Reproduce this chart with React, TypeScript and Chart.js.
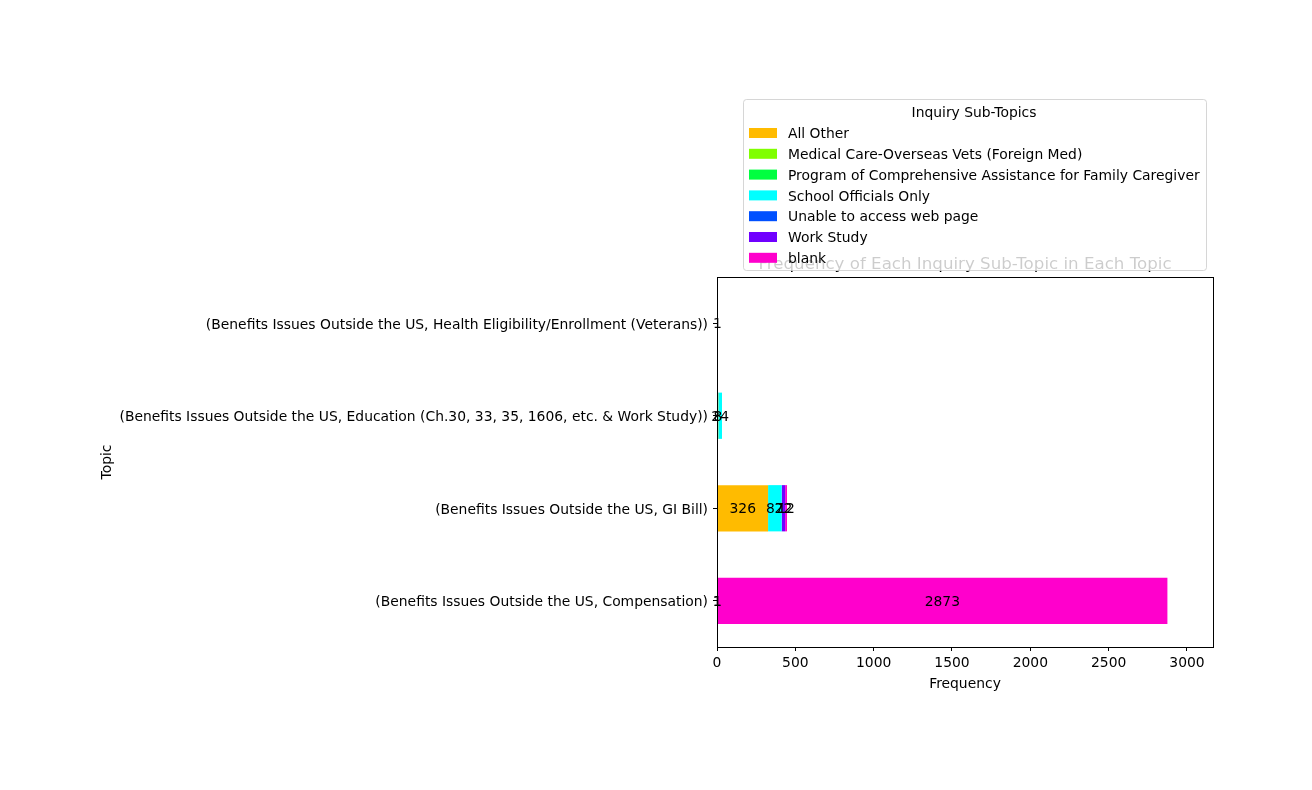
import React, { useEffect, useRef } from "react";
import { Chart, registerables } from "chart.js";

Chart.register(...registerables);

const topics = [
  "(Benefits Issues Outside the US, Health Eligibility/Enrollment (Veterans))",
  "(Benefits Issues Outside the US, Education (Ch.30, 33, 35, 1606, etc. & Work Study))",
  "(Benefits Issues Outside the US, GI Bill)",
  "(Benefits Issues Outside the US, Compensation)",
];

const subTopics = [
  "All Other",
  "Medical Care-Overseas Vets (Foreign Med)",
  "Program of Comprehensive Assistance for Family Caregiver",
  "School Officials Only",
  "Unable to access web page",
  "Work Study",
  "blank",
];

const colors = ["#FFBB00", "#80FF00", "#00FF40", "#00FFFF", "#0050FF", "#7000FF", "#FF00CC"];

const allOther = [0, 8, 326, 0];
const medicalCare = [0, 0, 0, 1];
const programCaregiver = [1, 0, 0, 0];
const schoolOfficials = [0, 24, 87, 0];
const unableWeb = [0, 0, 0, 1];
const workStudy = [0, 0, 22, 0];
const blank = [0, 0, 12, 2873];

const seriesValues = [allOther, medicalCare, programCaregiver, schoolOfficials, unableWeb, workStudy, blank];

const xTicks = [0, 500, 1000, 1500, 2000, 2500, 3000];
const xMax = 3166;

const chartTitle = "Frequency of Each Inquiry Sub-Topic in Each Topic";
const legendTitle = "Inquiry Sub-Topics";
const xTitle = "Frequency";
const yTitle = "Topic";

const FONT = "DejaVu Sans";
const FS = 13.89;

const overlayPlugin = {
  id: "overlay",
  afterDraw(chart: any) {
    const ctx = chart.ctx;
    const a = chart.chartArea;
    ctx.save();
    // value labels
    ctx.font = `${FS}px "${FONT}"`;
    ctx.fillStyle = "#000";
    ctx.textAlign = "center";
    ctx.textBaseline = "middle";
    chart.data.datasets.forEach((ds: any, i: number) => {
      const meta = chart.getDatasetMeta(i);
      meta.data.forEach((el: any, j: number) => {
        const v = ds.data[j];
        if (!v) return;
        ctx.fillText(String(v), (el.x + el.base) / 2, el.y + 1.5);
      });
    });
    // spines
    ctx.strokeStyle = "#000";
    ctx.lineWidth = 1;
    ctx.strokeRect(Math.round(a.left) + 0.5, Math.round(a.top) + 0.5, Math.round(a.right - a.left), Math.round(a.bottom - a.top));
    // axis titles
    ctx.font = `${FS}px "${FONT}"`;
    ctx.textAlign = "center";
    ctx.textBaseline = "middle";
    ctx.fillText(xTitle, (a.left + a.right) / 2, 684);
    ctx.save();
    ctx.translate(107, (a.top + a.bottom) / 2);
    ctx.rotate(-Math.PI / 2);
    ctx.fillText(yTitle, 0, 0);
    ctx.restore();
    // chart title
    ctx.font = `16.67px "${FONT}"`;
    ctx.textBaseline = "middle";
    ctx.fillText(chartTitle, (a.left + a.right) / 2, 265);
    // legend
    const lx = 743.5, ly = 99.5, lw = 463, lh = 171, r = 3;
    ctx.beginPath();
    ctx.moveTo(lx + r, ly);
    ctx.lineTo(lx + lw - r, ly);
    ctx.quadraticCurveTo(lx + lw, ly, lx + lw, ly + r);
    ctx.lineTo(lx + lw, ly + lh - r);
    ctx.quadraticCurveTo(lx + lw, ly + lh, lx + lw - r, ly + lh);
    ctx.lineTo(lx + r, ly + lh);
    ctx.quadraticCurveTo(lx, ly + lh, lx, ly + lh - r);
    ctx.lineTo(lx, ly + r);
    ctx.quadraticCurveTo(lx, ly, lx + r, ly);
    ctx.closePath();
    ctx.fillStyle = "rgba(255,255,255,0.8)";
    ctx.fill();
    ctx.strokeStyle = "rgba(204,204,204,0.8)";
    ctx.stroke();
    ctx.fillStyle = "#000";
    ctx.font = `${FS}px "${FONT}"`;
    ctx.textAlign = "center";
    ctx.textBaseline = "middle";
    ctx.fillText(legendTitle, lx + lw / 2 - 1, 113.5);
    ctx.textAlign = "left";
    chart.data.datasets.forEach((ds: any, i: number) => {
      const cy = 133 + i * 20.8;
      ctx.fillStyle = ds.backgroundColor;
      ctx.fillRect(749, cy - 5, 28, 10);
      ctx.fillStyle = "#000";
      ctx.fillText(ds.label, 788, cy + 1.5);
    });
    ctx.restore();
  },
};

export default function App() {
  const ref = useRef<HTMLCanvasElement>(null);
  useEffect(() => {
    if (!ref.current) return;
    const chart = new Chart(ref.current, {
      type: "bar",
      data: {
        labels: topics,
        datasets: subTopics.map((name, i) => ({
          label: name,
          data: seriesValues[i],
          backgroundColor: colors[i],
          borderWidth: 0,
          barPercentage: 0.5,
          categoryPercentage: 1.0,
        })),
      },
      options: {
        indexAxis: "y",
        animation: false,
        responsive: false,
        maintainAspectRatio: false,
        layout: { padding: { left: 0, top: 277, right: 99, bottom: 83 } },
        plugins: {
          legend: { display: false },
          title: { display: false },
          tooltip: { enabled: false },
        },
        scales: {
          x: {
            type: "linear",
            stacked: true,
            min: 0,
            max: xMax,
            afterBuildTicks: (scale: any) => {
              scale.ticks = xTicks.map((v) => ({ value: v }));
            },
            afterFit: (scale: any) => {
              scale.height = 60;
            },
            ticks: {
              color: "#000",
              font: { family: FONT, size: FS },
              padding: 4,
              maxRotation: 0,
              autoSkip: false,
              callback: (v: any) => String(v),
            },
            grid: {
              drawOnChartArea: false,
              drawTicks: true,
              tickLength: 4,
              tickColor: "#000",
              tickWidth: 1,
            },
            border: { display: false },
          },
          y: {
            type: "category",
            stacked: true,
            afterFit: (scale: any) => {
              scale.width = 717;
            },
            ticks: {
              color: "#000",
              font: { family: FONT, size: FS },
              padding: 5,
              labelOffset: 2,
              autoSkip: false,
            },
            grid: {
              drawOnChartArea: false,
              drawTicks: true,
              tickLength: 4,
              tickColor: "#000",
              tickWidth: 1,
              offset: false,
            },
            border: { display: false },
          },
        },
      },
      plugins: [overlayPlugin],
    } as any);
    return () => chart.destroy();
  }, []);
  return (
    <div style={{ position: "absolute", left: 0, top: 0, width: 1312, height: 790, background: "#fff" }}>
      <canvas ref={ref} width={1312} height={790} />
    </div>
  );
}
